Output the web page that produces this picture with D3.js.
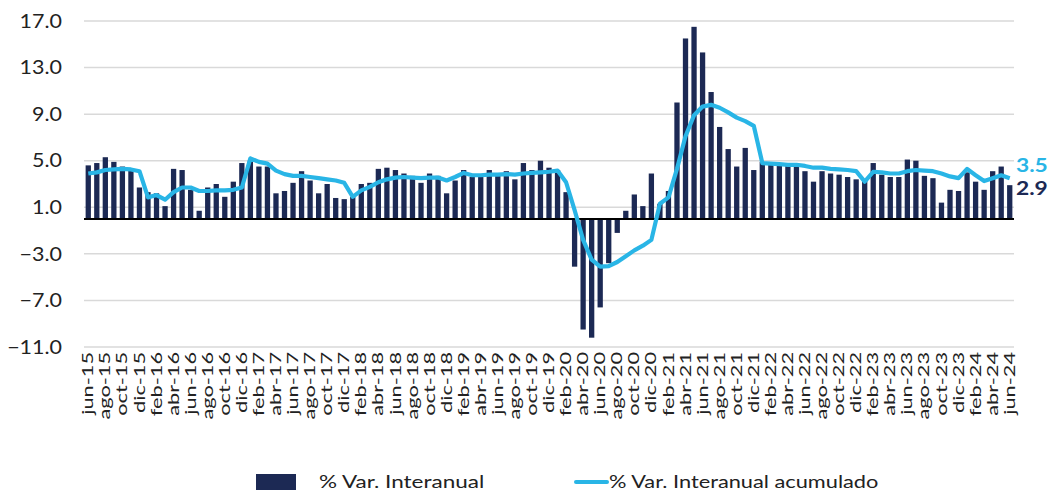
<!DOCTYPE html>
<html lang="es">
<head>
  <meta charset="UTF-8">
  <title>% Var. Interanual</title>
  <style>
    body { margin: 0; background: #fff; }
    svg text { font-family: Lato, "Open Sans", sans-serif; }
  </style>
</head>
<body>
<div id="chart"></div>
<script src="https://cdn.jsdelivr.net/npm/d3@7"></script>
<script type="text/javascript">
  // months, jun-15 .. jun-24
  const months = [
    "jun-15","jul-15","ago-15","sep-15","oct-15","nov-15","dic-15",
    "ene-16","feb-16","mar-16","abr-16","may-16","jun-16","jul-16","ago-16","sep-16","oct-16","nov-16","dic-16",
    "ene-17","feb-17","mar-17","abr-17","may-17","jun-17","jul-17","ago-17","sep-17","oct-17","nov-17","dic-17",
    "ene-18","feb-18","mar-18","abr-18","may-18","jun-18","jul-18","ago-18","sep-18","oct-18","nov-18","dic-18",
    "ene-19","feb-19","mar-19","abr-19","may-19","jun-19","jul-19","ago-19","sep-19","oct-19","nov-19","dic-19",
    "ene-20","feb-20","mar-20","abr-20","may-20","jun-20","jul-20","ago-20","sep-20","oct-20","nov-20","dic-20",
    "ene-21","feb-21","mar-21","abr-21","may-21","jun-21","jul-21","ago-21","sep-21","oct-21","nov-21","dic-21",
    "ene-22","feb-22","mar-22","abr-22","may-22","jun-22","jul-22","ago-22","sep-22","oct-22","nov-22","dic-22",
    "ene-23","feb-23","mar-23","abr-23","may-23","jun-23","jul-23","ago-23","sep-23","oct-23","nov-23","dic-23",
    "ene-24","feb-24","mar-24","abr-24","may-24","jun-24"
  ];

  // % Var. Interanual (bars)
  const varInteranual = [
    4.6, 4.8, 5.3, 4.9, 4.5, 4.3, 2.7,
    2.3, 2.2, 1.1, 4.3, 4.2, 2.5, 0.7, 2.7, 3.0, 1.9, 3.2, 4.8,
    5.0, 4.5, 4.5, 2.2, 2.4, 3.1, 4.1, 3.3, 2.2, 3.0, 1.8, 1.7,
    1.9, 3.0, 3.1, 4.3, 4.4, 4.2, 3.9, 3.7, 3.1, 3.9, 3.7, 2.2,
    3.3, 4.2, 3.6, 3.6, 4.2, 3.9, 4.1, 3.4, 4.8, 4.2, 5.0, 4.4,
    4.2, 2.3, -4.1, -9.5, -10.2, -7.6, -3.8, -1.2, 0.7, 2.1, 1.1, 3.9,
    1.3, 2.4, 10.0, 15.5, 16.5, 14.3, 10.9, 7.9, 6.0, 4.5, 6.1, 4.2,
    4.9, 4.8, 4.7, 4.7, 4.6, 4.1, 3.2, 4.1, 3.9, 3.8, 3.6, 3.4,
    3.3, 4.8, 3.8, 3.6, 3.6, 5.1, 5.0, 3.7, 3.5, 1.4, 2.5, 2.4,
    4.0, 3.2, 2.5, 4.1, 4.5, 2.9
  ];

  // % Var. Interanual acumulado (line)
  const varAcumulado = [
    3.9, 4.0, 4.2, 4.25, 4.3, 4.25, 4.1,
    1.85, 2.05, 1.65, 2.3, 2.7, 2.7, 2.4, 2.4, 2.45, 2.45, 2.5, 2.7,
    5.2, 4.9, 4.75, 4.15, 3.85, 3.7, 3.7, 3.6, 3.5, 3.4, 3.3, 3.1,
    1.9, 2.45, 2.75, 3.15, 3.4, 3.55, 3.6, 3.55, 3.5, 3.55, 3.55, 3.3,
    3.6, 3.95, 3.75, 3.75, 3.8, 3.8, 3.85, 3.8, 3.9, 3.95, 4.0, 4.05,
    4.15, 3.15, 0.75, -1.8, -3.5, -4.1, -4.05, -3.7, -3.2, -2.7, -2.3, -1.8,
    1.3, 1.85, 4.3, 7.1, 8.9, 9.65, 9.8, 9.55, 9.15, 8.7, 8.4, 8.0,
    4.8, 4.75, 4.7, 4.65, 4.65, 4.55, 4.4, 4.4, 4.3, 4.25, 4.2, 4.1,
    3.2, 4.05, 4.0, 3.9, 3.9, 4.1, 4.2, 4.15, 4.1, 3.9, 3.65, 3.5,
    4.3, 3.75, 3.25, 3.5, 3.75, 3.5
  ];

  const yTicks = [-11, -7, -3, 1, 5, 9, 13, 17];
  const seriesNames = ["% Var. Interanual", "% Var. Interanual acumulado"];

  const width = 1064, height = 492;
  const navy = "#1c2954", cyan = "#29b5e6";

  const svg = d3.select("#chart").append("svg")
    .attr("width", width)
    .attr("height", height);

  const x = d3.scaleBand()
    .domain(months)
    .range([84, 1014])
    .paddingInner(0.38)
    .paddingOuter(0.19);

  const y = d3.scaleLinear()
    .domain([-11, 17])
    .range([347, 21]);

  const fmt = d3.format(".1f");

  // grid
  svg.append("g").selectAll("line")
    .data(yTicks)
    .join("line")
    .attr("x1", 84).attr("x2", 1014)
    .attr("y1", d => y(d)).attr("y2", d => y(d))
    .style("stroke", "#d9d9d9")
    .style("stroke-width", 1.5);

  // y tick labels (font in the source is wide, so stretch a bit)
  svg.append("g").selectAll("text")
    .data(yTicks)
    .join("text")
    .attr("transform", d => "translate(62," + y(d) + ") scale(1.13,1)")
    .attr("dy", "0.35em")
    .attr("text-anchor", "end")
    .style("font-size", "19px")
    .style("fill", "#222")
    .text(d => fmt(d));

  // bars
  svg.append("g").selectAll("rect")
    .data(varInteranual)
    .join("rect")
    .attr("x", (d, i) => x(months[i]))
    .attr("width", x.bandwidth())
    .attr("y", d => y(Math.max(0, d)))
    .attr("height", d => Math.abs(y(d) - y(0)))
    .style("fill", navy);

  // zero line
  svg.append("line")
    .attr("x1", 84).attr("x2", 1014)
    .attr("y1", y(0)).attr("y2", y(0))
    .style("stroke", "#000")
    .style("stroke-width", 2);

  // line
  const line = d3.line()
    .x((d, i) => x(months[i]) + x.bandwidth() / 2)
    .y(d => y(d));

  svg.append("path")
    .datum(varAcumulado)
    .attr("d", line)
    .style("fill", "none")
    .style("stroke", cyan)
    .style("stroke-width", 4.2)
    .style("stroke-linejoin", "round");

  // x tick labels (every 2 months)
  svg.append("g").selectAll("text")
    .data(months.filter((m, i) => i % 2 === 0))
    .join("text")
    .attr("transform", d => "translate(" + (x(d) + x.bandwidth() / 2) + ",352) rotate(-90) scale(1.5,1)")
    .attr("dy", "0.35em")
    .attr("text-anchor", "end")
    .style("font-size", "14.5px")
    .style("fill", "#222")
    .text(d => d);

  // end labels
  const last = months.length - 1;
  svg.append("text")
    .attr("transform", "translate(1016," + (y(varAcumulado[last]) - 13) + ") scale(1.2,1)")
    .attr("dy", "0.35em")
    .style("font-size", "19px")
    .style("font-weight", "bold")
    .style("fill", cyan)
    .text(fmt(varAcumulado[last]));

  svg.append("text")
    .attr("transform", "translate(1016," + (y(varInteranual[last]) + 3) + ") scale(1.2,1)")
    .attr("dy", "0.35em")
    .style("font-size", "19px")
    .style("font-weight", "bold")
    .style("fill", navy)
    .text(fmt(varInteranual[last]));

  // legend
  const legend = svg.append("g");
  legend.append("rect")
    .attr("x", 256).attr("y", 474)
    .attr("width", 40).attr("height", 16)
    .style("fill", navy);
  legend.append("text")
    .attr("transform", "translate(319,482) scale(1.25,1)")
    .attr("dy", "0.35em")
    .style("font-size", "18px")
    .style("fill", "#222")
    .text(seriesNames[0]);
  legend.append("line")
    .attr("x1", 576).attr("x2", 607)
    .attr("y1", 482).attr("y2", 482)
    .style("stroke", cyan)
    .style("stroke-width", 4)
    .style("stroke-linecap", "round");
  legend.append("text")
    .attr("transform", "translate(609,482) scale(1.21,1)")
    .attr("dy", "0.35em")
    .style("font-size", "18px")
    .style("fill", "#222")
    .text(seriesNames[1]);
</script>
</body>
</html>
